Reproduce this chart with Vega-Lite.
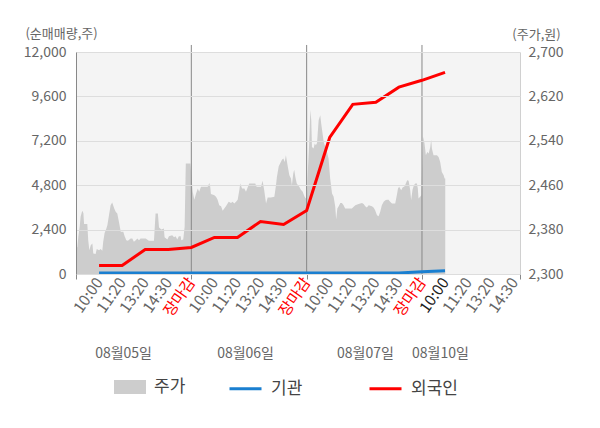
{
  "$schema": "https://vega.github.io/schema/vega-lite/v6.json",
  "width": 444,
  "height": 222,
  "autosize": "none",
  "padding": {"left": 76, "top": 52, "right": 80, "bottom": 154},
  "background": "white",
  "config": {
    "font": "Noto Sans CJK KR",
    "view": {"fill": "#f4f4f4", "stroke": null},
    "axis": {"titleFontWeight": "normal"}
  },
  "datasets": {
    "price": [
      {"t":0,"p":2343},{"t":0.06,"p":2349},{"t":0.10,"p":2367},{"t":0.16,"p":2385},{"t":0.20,"p":2403},{"t":0.27,"p":2414},{"t":0.32,"p":2410},{"t":0.35,"p":2390},{"t":0.49,"p":2390},{"t":0.53,"p":2361},{"t":0.58,"p":2343},{"t":0.64,"p":2352},{"t":0.71,"p":2355},{"t":0.75,"p":2337},{"t":0.85,"p":2336},{"t":0.90,"p":2345},
      {"t":1.00,"p":2343},{"t":1.07,"p":2345},{"t":1.14,"p":2342},{"t":1.18,"p":2358},{"t":1.24,"p":2374},{"t":1.31,"p":2381},{"t":1.36,"p":2388},{"t":1.43,"p":2406},{"t":1.50,"p":2424},{"t":1.57,"p":2429},{"t":1.65,"p":2419},{"t":1.72,"p":2412},{"t":1.79,"p":2409},{"t":1.86,"p":2394},{"t":1.94,"p":2376},
      {"t":2.05,"p":2376},{"t":2.11,"p":2368},{"t":2.18,"p":2361},{"t":2.25,"p":2360},{"t":2.37,"p":2364},{"t":2.44,"p":2364},{"t":2.51,"p":2358},{"t":2.59,"p":2361},{"t":2.66,"p":2364},{"t":2.73,"p":2361},{"t":2.80,"p":2364},
      {"t":3.02,"p":2364},{"t":3.16,"p":2360},{"t":3.38,"p":2360},{"t":3.45,"p":2409},{"t":3.55,"p":2409},{"t":3.60,"p":2384},{"t":3.70,"p":2380},{"t":3.81,"p":2382},{"t":3.84,"p":2366},{"t":3.96,"p":2362},
      {"t":4.03,"p":2368},{"t":4.17,"p":2370},{"t":4.25,"p":2366},{"t":4.32,"p":2368},{"t":4.39,"p":2362},{"t":4.46,"p":2368},{"t":4.54,"p":2368},{"t":4.56,"p":2361},{"t":4.65,"p":2362},{"t":4.71,"p":2385},{"t":4.76,"p":2499},{"t":4.96,"p":2499},
      {"t":5.02,"p":2469},{"t":5.06,"p":2448},{"t":5.13,"p":2434},{"t":5.20,"p":2444},{"t":5.28,"p":2454},{"t":5.34,"p":2448},{"t":5.42,"p":2457},{"t":5.56,"p":2457},{"t":5.71,"p":2457},{"t":5.78,"p":2464},{"t":5.82,"p":2457},{"t":5.85,"p":2444},
      {"t":6.00,"p":2442},{"t":6.07,"p":2439},{"t":6.14,"p":2434},{"t":6.21,"p":2424},{"t":6.29,"p":2422},{"t":6.36,"p":2414},{"t":6.43,"p":2418},{"t":6.50,"p":2422},{"t":6.62,"p":2430},{"t":6.72,"p":2428},{"t":6.79,"p":2430},{"t":6.86,"p":2427},{"t":6.94,"p":2430},
      {"t":7.01,"p":2434},{"t":7.08,"p":2451},{"t":7.12,"p":2463},{"t":7.20,"p":2454},{"t":7.30,"p":2454},{"t":7.37,"p":2448},{"t":7.44,"p":2456},{"t":7.51,"p":2463},{"t":7.77,"p":2463},{"t":7.83,"p":2457},
      {"t":8.02,"p":2457},{"t":8.09,"p":2468},{"t":8.16,"p":2451},{"t":8.24,"p":2427},{"t":8.31,"p":2438},{"t":8.45,"p":2438},{"t":8.60,"p":2439},{"t":8.67,"p":2460},{"t":8.71,"p":2475},{"t":8.79,"p":2494},{"t":8.86,"p":2500},{"t":8.93,"p":2506},{"t":8.99,"p":2508},
      {"t":9.05,"p":2502},{"t":9.10,"p":2514},{"t":9.18,"p":2494},{"t":9.25,"p":2478},{"t":9.32,"p":2472},{"t":9.36,"p":2460},{"t":9.42,"p":2481},{"t":9.46,"p":2488},{"t":9.51,"p":2475},{"t":9.57,"p":2463},{"t":9.68,"p":2457},{"t":9.75,"p":2452},{"t":9.83,"p":2448},{"t":9.90,"p":2440},{"t":9.96,"p":2436},
      {"t":10.01,"p":2439},{"t":10.06,"p":2493},{"t":10.11,"p":2535},{"t":10.16,"p":2596},{"t":10.20,"p":2577},{"t":10.23,"p":2529},{"t":10.30,"p":2526},{"t":10.35,"p":2535},{"t":10.40,"p":2532},{"t":10.45,"p":2536},{"t":10.52,"p":2577},{"t":10.59,"p":2586},{"t":10.63,"p":2571},{"t":10.69,"p":2553},{"t":10.74,"p":2538},{"t":10.81,"p":2529},{"t":10.88,"p":2520},{"t":10.95,"p":2508},
      {"t":11.02,"p":2472},{"t":11.10,"p":2445},{"t":11.17,"p":2439},{"t":11.24,"p":2421},{"t":11.28,"p":2398},{"t":11.33,"p":2418},{"t":11.39,"p":2422},{"t":11.46,"p":2428},{"t":11.53,"p":2428},{"t":11.60,"p":2424},{"t":11.67,"p":2418},{"t":11.96,"p":2418},
      {"t":12.04,"p":2421},{"t":12.11,"p":2424},{"t":12.25,"p":2426},{"t":12.40,"p":2428},{"t":12.47,"p":2426},{"t":12.54,"p":2422},{"t":12.61,"p":2420},{"t":12.69,"p":2424},{"t":12.83,"p":2422},{"t":12.90,"p":2420},{"t":12.97,"p":2415},
      {"t":13.05,"p":2406},{"t":13.12,"p":2404},{"t":13.19,"p":2412},{"t":13.26,"p":2424},{"t":13.34,"p":2430},{"t":13.41,"p":2433},{"t":13.48,"p":2434},{"t":13.55,"p":2434},{"t":13.62,"p":2430},{"t":13.70,"p":2427},{"t":13.84,"p":2427},{"t":13.91,"p":2442},{"t":13.96,"p":2454},
      {"t":14.01,"p":2457},{"t":14.10,"p":2451},{"t":14.16,"p":2456},{"t":14.25,"p":2458},{"t":14.30,"p":2463},{"t":14.36,"p":2469},{"t":14.42,"p":2468},{"t":14.49,"p":2451},{"t":14.53,"p":2433},{"t":14.59,"p":2452},{"t":14.65,"p":2460},{"t":14.71,"p":2463},{"t":14.78,"p":2463},{"t":14.82,"p":2454},{"t":14.85,"p":2436},{"t":14.92,"p":2439},{"t":14.97,"p":2442},
      {"t":15.04,"p":2548},{"t":15.11,"p":2535},{"t":15.17,"p":2514},{"t":15.23,"p":2520},{"t":15.29,"p":2517},{"t":15.36,"p":2529},{"t":15.40,"p":2542},{"t":15.43,"p":2526},{"t":15.50,"p":2514},{"t":15.65,"p":2514},{"t":15.72,"p":2511},{"t":15.79,"p":2502},{"t":15.86,"p":2484},{"t":15.94,"p":2478},{"t":15.98,"p":2472},{"t":16.01,"p":2472}
    ],
    "flow": [
      {"t":1,"series":"기관","value":50},{"t":2,"series":"기관","value":50},{"t":3,"series":"기관","value":50},{"t":4,"series":"기관","value":50},{"t":5,"series":"기관","value":50},{"t":6,"series":"기관","value":50},{"t":7,"series":"기관","value":50},{"t":8,"series":"기관","value":50},{"t":9,"series":"기관","value":50},{"t":10,"series":"기관","value":50},{"t":11,"series":"기관","value":50},{"t":12,"series":"기관","value":50},{"t":13,"series":"기관","value":50},{"t":14,"series":"기관","value":60},{"t":15,"series":"기관","value":120},{"t":16,"series":"기관","value":170},
      {"t":1,"series":"외국인","value":460},{"t":2,"series":"외국인","value":460},{"t":3,"series":"외국인","value":1325},{"t":4,"series":"외국인","value":1330},{"t":5,"series":"외국인","value":1434},{"t":6,"series":"외국인","value":1975},{"t":7,"series":"외국인","value":1975},{"t":8,"series":"외국인","value":2840},{"t":9,"series":"외국인","value":2680},{"t":10,"series":"외국인","value":3435},{"t":11,"series":"외국인","value":7380},{"t":12,"series":"외국인","value":9170},{"t":13,"series":"외국인","value":9280},{"t":14,"series":"외국인","value":10100},{"t":15,"series":"외국인","value":10470},{"t":16,"series":"외국인","value":10900}
    ],
    "days": [{"t":5},{"t":10},{"t":15}]
  },
  "layer": [
    {
      "data": {"name": "price"},
      "mark": {"type": "area", "interpolate": "linear", "strokeWidth": 0},
      "encoding": {
        "x": {
          "field": "t", "type": "quantitative",
          "scale": {"domain": [0, 19.25], "nice": false, "zero": false},
          "axis": {
            "orient": "bottom",
            "values": [1,2,3,4,5,6,7,8,9,10,11,12,13,14,15,16,17,18,19],
            "labelExpr": "['10:00','11:20','13:20','14:30','장마감'][(round(datum.value) - 1) % 5]",
            "labelAngle": -55, "labelAlign": "right", "labelBaseline": "middle",
            "labelFontSize": 15.5, "labelPadding": 5,
            "labelColor": {"condition": [{"test": "round(datum.value) % 5 == 0", "value": "#ff0000"}, {"test": "round(datum.value) == 16", "value": "#222222"}], "value": "#666666"},
            "labelOverlap": false, "labelFlush": false, "labelBound": false,
            "ticks": false, "domain": false, "grid": false, "title": null
          }
        },
        "y": {
          "field": "p", "type": "quantitative",
          "scale": {"domain": [2300, 2700], "nice": false, "zero": false},
          "axis": {
            "orient": "right",
            "values": [2300, 2380, 2460, 2540, 2620, 2700],
            "format": ",.0f",
            "grid": false, "ticks": false,
            "domainColor": "#d0d0d0",
            "labelPadding": 8, "labelFontSize": 14, "labelColor": "#666666",
            "title": "(주가,원)", "titleAngle": 0, "titleAlign": "center", "titleBaseline": "middle",
            "titleX": 16, "titleY": -18, "titleFontSize": 13, "titleColor": "#666666"
          }
        },
        "y2": {"datum": 2300},
        "fill": {
          "datum": "주가",
          "scale": {"domain": ["주가"], "range": ["#cdcdcd"]},
          "legend": {
            "orient": "none", "legendX": 38, "legendY": 319, "direction": "horizontal",
            "title": null, "padding": 0,
            "symbolType": "M-1,-0.4375H1V0.4375H-1Z", "symbolSize": 1024, "symbolStrokeWidth": 0,
            "labelFontSize": 17, "labelColor": "#444444", "labelOffset": 8
          }
        }
      }
    },
    {
      "layer": [
        {
          "data": {"name": "days"},
          "mark": {"type": "rule", "color": "#888888", "strokeWidth": 1},
          "encoding": {
            "x": {
              "field": "t", "type": "quantitative",
              "scale": {"domain": [0, 19.25], "nice": false, "zero": false},
              "axis": {
                "orient": "bottom",
                "values": [0, 5, 10, 15, 19.25],
                "labels": false, "ticks": true, "tickSize": 5, "tickColor": "#888888",
                "domain": true, "domainColor": "#888888", "grid": false, "title": null
              }
            },
            "y": {
              "datum": 0, "type": "quantitative",
              "scale": {"domain": [0, 12000], "nice": false, "zero": true},
              "axis": {
                "orient": "left",
                "values": [0, 2400, 4800, 7200, 9600, 12000],
                "format": ",.0f",
                "grid": true, "gridColor": "#dddddd", "gridWidth": 1,
                "ticks": false, "domainColor": "#888888", "zindex": 1,
                "labelPadding": 10, "labelFontSize": 14, "labelColor": "#666666",
                "title": "(순매매량,주)", "titleAngle": 0, "titleAlign": "center", "titleBaseline": "middle",
                "titleX": -15, "titleY": -19, "titleFontSize": 13, "titleColor": "#666666"
              }
            },
            "y2": {"datum": 12380}
          }
        },
        {
          "data": {"name": "flow"},
          "mark": {"type": "line", "strokeWidth": 3, "interpolate": "linear"},
          "encoding": {
            "x": {
              "field": "t", "type": "quantitative",
              "scale": {"domain": [0, 19.25], "nice": false, "zero": false},
              "axis": {
                "orient": "bottom",
                "values": [2.04, 7.33, 12.53, 15.78],
                "labelExpr": "datum.value < 5 ? '08월05일' : datum.value < 10 ? '08월06일' : datum.value < 15 ? '08월07일' : '08월10일'",
                "labelAngle": 0, "labelAlign": "center", "labelBaseline": "middle",
                "labelFontSize": 14, "labelColor": "#666666", "labelPadding": 0,
                "labelOverlap": false, "labelFlush": false,
                "offset": 79, "ticks": false, "domain": false, "grid": false, "title": null
              }
            },
            "y": {
              "field": "value", "type": "quantitative",
              "scale": {"domain": [0, 12000], "nice": false, "zero": true},
              "axis": {
                "orient": "left",
                "values": [0, 2400, 4800, 7200, 9600, 12000],
                "format": ",.0f",
                "grid": true, "gridColor": "#dddddd", "gridWidth": 1,
                "ticks": false, "domainColor": "#888888", "zindex": 1,
                "labelPadding": 10, "labelFontSize": 14, "labelColor": "#666666",
                "title": "(순매매량,주)", "titleAngle": 0, "titleAlign": "center", "titleBaseline": "middle",
                "titleX": -15, "titleY": -19, "titleFontSize": 13, "titleColor": "#666666"
              }
            },
            "stroke": {
              "field": "series", "type": "nominal",
              "scale": {"domain": ["기관", "외국인"], "range": ["#1a7fd0", "#ff0000"]},
              "legend": {
                "orient": "none", "legendX": 152, "legendY": 319, "direction": "horizontal",
                "title": null, "padding": 0,
                "symbolType": "stroke", "symbolSize": 1024, "symbolStrokeWidth": 3,
                "labelFontSize": 17, "labelColor": "#444444", "labelOffset": 8,
                "columnPadding": 60
              }
            }
          }
        }
      ],
      "resolve": {"axis": {"x": "independent"}}
    }
  ],
  "resolve": {"scale": {"y": "independent"}, "axis": {"x": "independent"}}
}
